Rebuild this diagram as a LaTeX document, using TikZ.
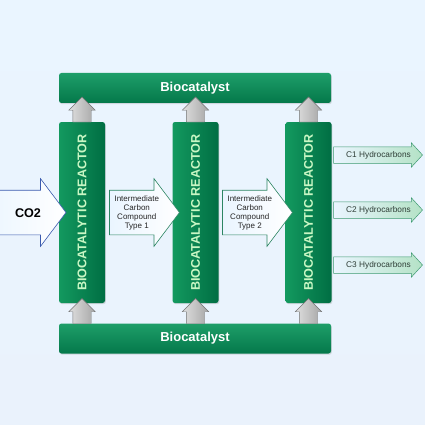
\documentclass[tikz,border=0pt]{standalone}
\usepackage{fontspec}
\setmainfont{Liberation Sans}
\usetikzlibrary{shapes.arrows,shadows,calc}

\definecolor{bgtop}{HTML}{EAF5FF}
\definecolor{bgbot}{HTML}{EAF2FC}
\definecolor{bartop}{HTML}{1E9E69}
\definecolor{barbot}{HTML}{04784A}
\definecolor{reacl}{HTML}{13995F}
\definecolor{reacr}{HTML}{006E43}
\definecolor{reactxt}{HTML}{C9F7C4}
\definecolor{co2line}{HTML}{3A5AAE}
\definecolor{midline}{HTML}{2C8563}
\definecolor{outfill}{HTML}{B4E2C6}
\definecolor{outline}{HTML}{3D9A70}
\definecolor{outtxt}{HTML}{2E3D36}

\begin{document}
\begin{tikzpicture}[x=1pt,y=-1pt]
\tikzstyle{every node}=[inner sep=0pt, outer sep=0pt]
\tikzstyle{catbar}=[rectangle, rounded corners=2.5pt, minimum width=272pt, minimum height=30pt,
  top color=bartop, bottom color=barbot, text=white,
  drop shadow={opacity=.25, shadow xshift=.8pt, shadow yshift=-1.2pt},
  font=\bfseries\fontsize{13}{15}\selectfont]
\tikzstyle{reactor}=[rectangle, rounded corners=2.5pt, minimum width=46pt, minimum height=181pt,
  left color=reacl, right color=reacr,
  drop shadow={opacity=.25, shadow xshift=.8pt, shadow yshift=-1.2pt}]
\tikzstyle{reactext}=[rotate=90, text=reactxt, font=\bfseries\fontsize{12.6}{14}\selectfont]
\tikzstyle{upflow}=[single arrow, shape border rotate=90, minimum height=25pt, inner xsep=9pt, inner ysep=0pt,
  single arrow head extend=4pt, single arrow tip angle=90,
  left color=gray!25, right color=gray!70, draw=gray!90!black, line width=.4pt]
\tikzstyle{bigflow}=[single arrow, inner ysep=22pt, inner xsep=2pt, single arrow head extend=11.5pt,
  single arrow tip angle=106, line width=.6pt, right color=white]
\tikzstyle{outflow}=[single arrow, minimum height=89pt, inner ysep=8pt, inner xsep=2pt,
  single arrow head extend=4pt, single arrow tip angle=95,
  left color=bgtop, right color=outfill, draw=outline, line width=.5pt]
\tikzstyle{midtext}=[align=center, text=black!85, font=\fontsize{8}{9}\selectfont]
\tikzstyle{outtext}=[text=outtxt, font=\fontsize{8.3}{10}\selectfont]

% background
\fill[top color=bgtop, bottom color=bgbot] (0,0) rectangle (425,425);
\useasboundingbox (0,0) rectangle (425,425);

% biocatalyst bars
\node[catbar] (cat1) at (195,88) {Biocatalyst};
\node[catbar] (cat2) at (195,338.5) {Biocatalyst};

% reactors
\node[reactor] (r1) at (82,212.5) {};
\node[reactor] (r2) at (195.5,212.5) {};
\node[reactor] (r3) at (308.5,212.5) {};
\node[reactext] (r1t) at (r1.center) {BIOCATALYTIC REACTOR};
\node[reactext] (r2t) at (r2.center) {BIOCATALYTIC REACTOR};
\node[reactext] (r3t) at (r3.center) {BIOCATALYTIC REACTOR};

% biocatalyst feed
\node[upflow, anchor=tail] (g1) at (r1.north) {};
\node[upflow, anchor=tail] (g2) at (r2.north) {};
\node[upflow, anchor=tail] (g3) at (r3.north) {};
\node[upflow, anchor=tail] (g4) at (r1.south |- cat2.north) {};
\node[upflow, anchor=tail] (g5) at (r2.south |- cat2.north) {};
\node[upflow, anchor=tail] (g6) at (r3.south |- cat2.north) {};

% carbon flow
\node[bigflow, minimum height=68pt, left color=bgtop!80!white, draw=co2line, anchor=tip] (co2) at ([xshift=7pt]r1.west) {};
\node[bigflow, minimum height=70pt, left color=bgtop, draw=midline, anchor=tip] (i1) at ([xshift=7pt]r2.west) {};
\node[bigflow, minimum height=70pt, left color=bgtop, draw=midline, anchor=tip] (i2) at ([xshift=7pt]r3.west) {};
\node[font=\bfseries\fontsize{12.6}{14}\selectfont] (co2t) at (28,213) {CO2};
\node[midtext] (i1t) at ($(i1.tail)!0.39!(i1.tip)$) {Intermediate\\Carbon\\Compound\\Type 1};
\node[midtext] (i2t) at ($(i2.tail)!0.39!(i2.tip)$) {Intermediate\\Carbon\\Compound\\Type 2};

% products
\node[outflow, anchor=tail] (h1) at ([xshift=2pt]r3.east |- 0,155) {};
\node[outflow, anchor=tail] (h2) at ([xshift=2pt]r3.east |- 0,210) {};
\node[outflow, anchor=tail] (h3) at ([xshift=2pt]r3.east |- 0,265) {};
\node[outtext] (h1t) at ([xshift=45pt]h1.tail) {C1 Hydrocarbons};
\node[outtext] (h2t) at ([xshift=45pt]h2.tail) {C2 Hydrocarbons};
\node[outtext] (h3t) at ([xshift=45pt]h3.tail) {C3 Hydrocarbons};
\end{tikzpicture}
\end{document}
